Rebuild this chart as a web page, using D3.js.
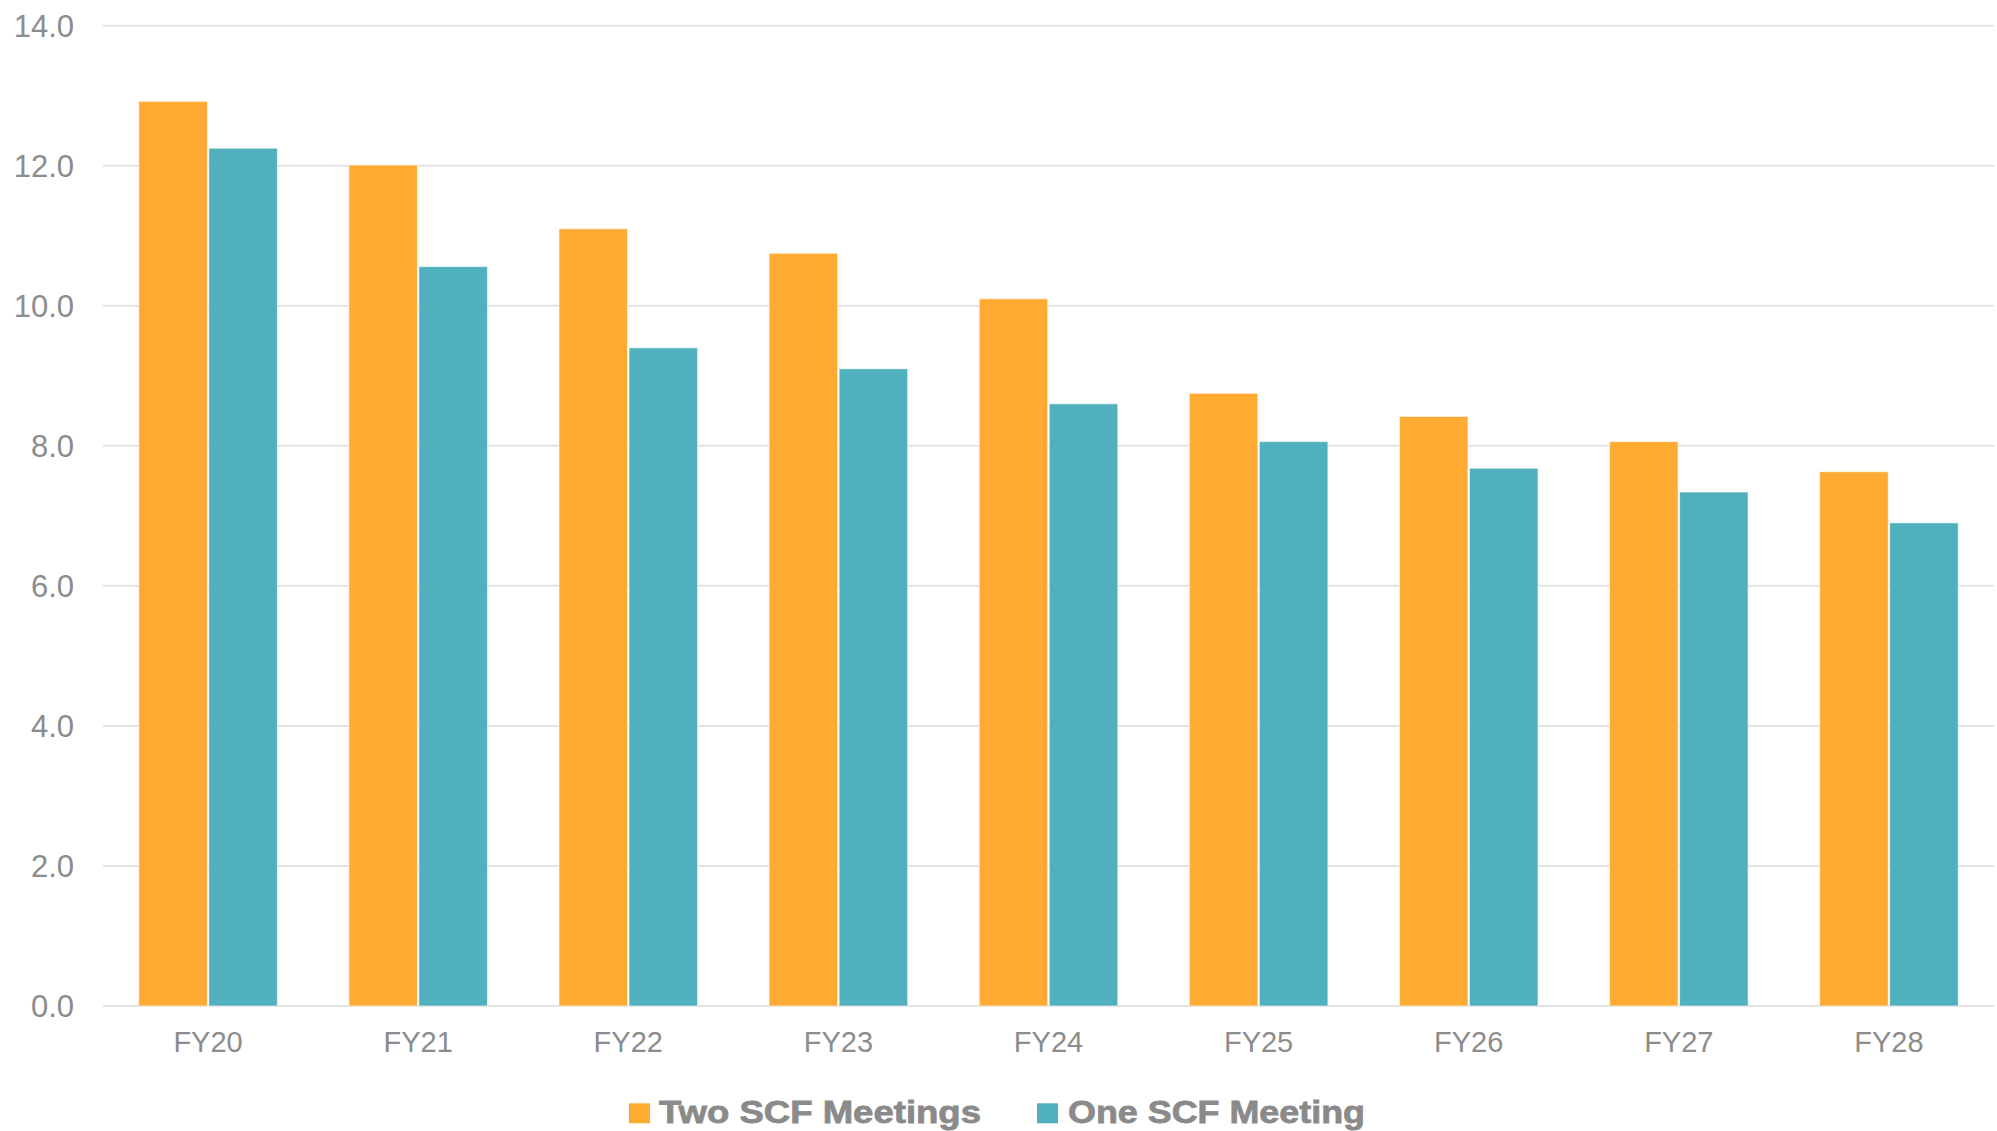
<!DOCTYPE html>
<html><head><meta charset="utf-8">
<script src="https://cdn.jsdelivr.net/npm/d3@7"></script>
<style>html,body{margin:0;padding:0;background:#fff;}svg{display:block;}</style>
</head><body>
<svg id="chart" width="1997" height="1131"></svg>
<script>
const categories = ["FY20","FY21","FY22","FY23","FY24","FY25","FY26","FY27","FY28"];
const seriesNames = ["Two SCF Meetings","One SCF Meeting"];
const twoMeetings = [12.92, 12.01, 11.10, 10.75, 10.10, 8.75, 8.42, 8.06, 7.63];
const oneMeeting  = [12.25, 10.56, 9.40, 9.10, 8.60, 8.06, 7.68, 7.34, 6.90];
const yTicks = [0,2,4,6,8,10,12,14];
const colors = ["#FEAA33", "#50B0BD"];

(function(){
const svg = d3.select("#chart");
const pLeft = 103, pRight = 1994, pTop = 25.7, pBottom = 1006;
const x = d3.scaleBand().domain(categories).range([pLeft, pRight]).paddingInner(1/3).paddingOuter(1/6);
const x1 = d3.scaleBand().domain(seriesNames).range([0, x.bandwidth()]);
const y = d3.scaleLinear().domain([0,14]).range([pBottom, pTop]);

// gridlines
svg.append("g").selectAll("line").data(yTicks).join("line")
  .attr("x1", pLeft).attr("x2", pRight)
  .attr("y1", d=>y(d)).attr("y2", d=>y(d))
  .attr("stroke", "#e3e3e3").attr("stroke-width", 2);

// y labels
svg.append("g").selectAll("text").data(yTicks).join("text")
  .attr("x", 74).attr("y", d=>y(d)).attr("dy","0.36em")
  .attr("text-anchor","end")
  .attr("font-family","Liberation Sans, Arial, sans-serif")
  .attr("font-size", 31).attr("fill","#8c8c8c")
  .text(d=>d3.format(".1f")(d));

// bars
const data = categories.map((c,i)=>({cat:c, vals:[twoMeetings[i], oneMeeting[i]]}));
const g = svg.append("g").selectAll("g").data(data).join("g")
  .attr("transform", d=>`translate(${x(d.cat)},0)`);
g.selectAll("rect").data(d=>d.vals.map((v,j)=>({v, s:seriesNames[j], j}))).join("rect")
  .attr("x", d=>x1(d.s)+0.75).attr("width", x1.bandwidth()-1.5)
  .attr("y", d=>y(d.v)).attr("height", d=>y(0)-y(d.v))
  .attr("fill", d=>colors[d.j])
  .attr("stroke", "#ffffff").attr("stroke-opacity",0.6).attr("stroke-width", 1);

// x labels
svg.append("g").selectAll("text").data(categories).join("text")
  .attr("x", d=>x(d)+x.bandwidth()/2).attr("y", 1052)
  .attr("text-anchor","middle")
  .attr("font-family","Liberation Sans, Arial, sans-serif")
  .attr("font-size", 29).attr("fill","#8c8c8c")
  .text(d=>d);

// legend
const legendItems = [
  {name: seriesNames[0], color: colors[0], rx: 629, tx: 659, tw: 322},
  {name: seriesNames[1], color: colors[1], rx: 1037, tx: 1068, tw: 297}
];
const lg = svg.append("g");
legendItems.forEach(it=>{
  lg.append("rect").attr("x", it.rx).attr("y", 1103.3).attr("width", 21).attr("height", 20).attr("fill", it.color);
  lg.append("text").attr("x", it.tx).attr("y", 1123.3)
    .attr("font-family","Liberation Sans, Arial, sans-serif")
    .attr("font-weight","bold").attr("font-size", 32).attr("fill","#8a8a8a")
    .attr("stroke","#8a8a8a").attr("stroke-width",0.8)
    .attr("textLength", it.tw).attr("lengthAdjust","spacingAndGlyphs")
    .text(it.name);
});
})();
</script>
</body></html>
